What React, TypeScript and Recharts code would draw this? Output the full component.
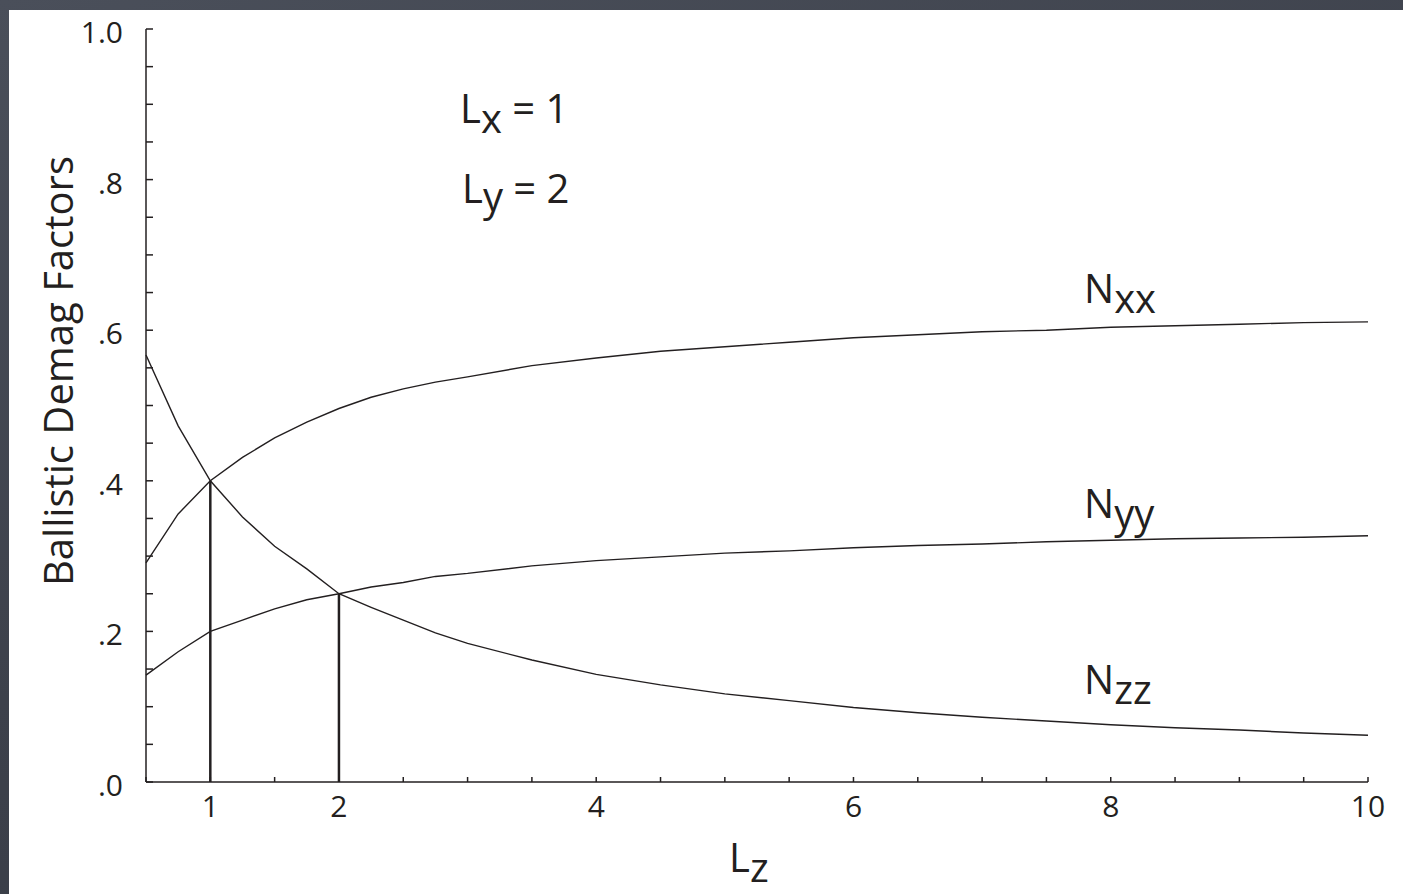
import React from 'react'
import { LineChart, Line, XAxis, YAxis, ReferenceLine } from 'recharts'

// L_z values (x axis) and the three demag factors
const lz = [0.5, 0.75, 1, 1.25, 1.5, 1.75, 2, 2.25, 2.5, 2.75, 3, 3.5, 4, 4.5, 5, 5.5, 6, 6.5, 7, 7.5, 8, 8.5, 9, 9.5, 10]
const nxx = [0.291, 0.356, 0.4, 0.431, 0.457, 0.478, 0.496, 0.511, 0.522, 0.531, 0.538, 0.553, 0.563, 0.572, 0.578, 0.584, 0.59, 0.594, 0.598, 0.6, 0.604, 0.606, 0.608, 0.61, 0.611]
const nyy = [0.142, 0.173, 0.2, 0.215, 0.23, 0.242, 0.25, 0.259, 0.265, 0.273, 0.277, 0.287, 0.294, 0.299, 0.304, 0.307, 0.311, 0.314, 0.316, 0.319, 0.321, 0.323, 0.324, 0.325, 0.327]
const nzz = [0.567, 0.473, 0.4, 0.352, 0.313, 0.283, 0.25, 0.232, 0.215, 0.198, 0.184, 0.162, 0.143, 0.129, 0.117, 0.108, 0.099, 0.092, 0.086, 0.081, 0.076, 0.072, 0.069, 0.065, 0.062]

// vertical drop lines at the crossings
const dropLz = [1, 2]
const dropN = [0.4, 0.25]

const xTicks = [0.5, 1, 1.5, 2, 2.5, 3, 3.5, 4, 4.5, 5, 5.5, 6, 6.5, 7, 7.5, 8, 8.5, 9, 9.5, 10]
const xTickLabels = [1, 2, 4, 6, 8, 10]
const yTicks = [0, 0.05, 0.1, 0.15, 0.2, 0.25, 0.3, 0.35, 0.4, 0.45, 0.5, 0.55, 0.6, 0.65, 0.7, 0.75, 0.8, 0.85, 0.9, 0.95, 1]
const yTickLabels: Record<string, string> = { '0': '.0', '0.2': '.2', '0.4': '.4', '0.6': '.6', '0.8': '.8', '1': '1.0' }

const FONT = "'Open Sans', 'Noto Sans', sans-serif"
const INK = '#231f20'

const chartData = lz.map((x, i) => ({ lz: x, nxx: nxx[i], nyy: nyy[i], nzz: nzz[i] }))

const XTick = (props: any) => {
  const { x, y, payload } = props
  const v = payload.value
  return (
    <g>
      <line x1={x} x2={x} y1={y} y2={y - 5} stroke={INK} strokeWidth={1.5} />
      {xTickLabels.includes(v) && (
        <text x={x} y={y + 35} textAnchor="middle" fontSize={30} fontFamily={FONT} fill={INK}>
          {v}
        </text>
      )}
    </g>
  )
}

const YTick = (props: any) => {
  const { x, y, payload } = props
  const label = yTickLabels[String(payload.value)]
  return (
    <g>
      <line x1={x} x2={x + 7} y1={y} y2={y} stroke={INK} strokeWidth={1.5} />
      {label && (
        <text x={x - 23} y={y + 14} textAnchor="end" fontSize={30} fontFamily={FONT} fill={INK}>
          {label}
        </text>
      )}
    </g>
  )
}

export default function App() {
  return (
    <div
      style={{
        position: 'absolute',
        left: 0,
        top: 0,
        width: 1403,
        height: 894,
        background: 'linear-gradient(160deg, #4a4f5a 0%, #3d414b 50%, #353943 100%)',
        overflow: 'hidden',
      }}
    >
      <div style={{ position: 'absolute', left: 9, top: 10, width: 1394, height: 884, background: '#fff' }}>
        <LineChart width={1394} height={884} data={chartData} margin={{ top: 19, right: 35, left: 77, bottom: 72 }}>
          <XAxis
            dataKey="lz"
            type="number"
            domain={[0.5, 10]}
            ticks={xTicks}
            interval={0}
            height={40}
            tickSize={0}
            tickMargin={0}
            tickLine={false}
            axisLine={{ stroke: INK, strokeWidth: 1.5 }}
            tick={<XTick />}
          />
          <YAxis
            type="number"
            domain={[0, 1]}
            ticks={yTicks}
            interval={0}
            width={60}
            tickSize={0}
            tickMargin={0}
            tickLine={false}
            axisLine={{ stroke: INK, strokeWidth: 1.5 }}
            tick={<YTick />}
          />
          {dropLz.map((x, i) => (
            <ReferenceLine
              key={x}
              segment={[{ x, y: 0 }, { x, y: dropN[i] }]}
              stroke={INK}
              strokeWidth={2.5}
            />
          ))}
          <Line type="linear" dataKey="nxx" stroke={INK} strokeWidth={1.4} dot={false} isAnimationActive={false} />
          <Line type="linear" dataKey="nyy" stroke={INK} strokeWidth={1.4} dot={false} isAnimationActive={false} />
          <Line type="linear" dataKey="nzz" stroke={INK} strokeWidth={1.4} dot={false} isAnimationActive={false} />

          <text transform="translate(64,361) rotate(-90)" textAnchor="middle" fontSize={40} fontFamily={FONT} fill={INK}>
            Ballistic Demag Factors
          </text>
          <text x={720} y={862} fontSize={40} fontFamily={FONT} fill={INK}>
            L<tspan dy={10}>z</tspan>
          </text>
          <text x={451} y={113} fontSize={40} fontFamily={FONT} fill={INK}>
            L<tspan dy={10}>x</tspan><tspan dy={-10}> = 1</tspan>
          </text>
          <text x={453} y={193} fontSize={40} fontFamily={FONT} fill={INK}>
            L<tspan dy={8}>y</tspan><tspan dy={-8}> = 2</tspan>
          </text>
          <text x={1075} y={293} fontSize={40} fontFamily={FONT} fill={INK}>
            N<tspan dy={10}>xx</tspan>
          </text>
          <text x={1075} y={508} fontSize={40} fontFamily={FONT} fill={INK}>
            N<tspan dy={10}>yy</tspan>
          </text>
          <text x={1075} y={684} fontSize={40} fontFamily={FONT} fill={INK}>
            N<tspan dy={10}>zz</tspan>
          </text>
        </LineChart>
      </div>
    </div>
  )
}
